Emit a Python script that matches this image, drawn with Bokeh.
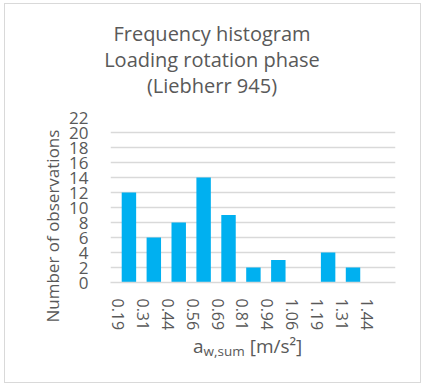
from bokeh.plotting import figure
from bokeh.models import ColumnDataSource, FixedTicker, Range1d, Title, Div
from bokeh.layouts import column
from bokeh.transform import dodge
from bokeh.embed import file_html
from bokeh.resources import INLINE

# ---- data ----
bin_labels = ["0.19", "0.31", "0.44", "0.56", "0.69", "0.81", "0.94", "1.06", "1.19", "1.31", "1.44"]
counts = [12, 6, 8, 14, 9, 2, 3, 0, 4, 2, 0]
y_ticks = list(range(0, 23, 2))
title_lines = ["Frequency histogram", "Loading rotation phase", "(Liebherr 945)"]
y_title = "Number of observations"
x_title_main, x_title_sub, x_title_unit = "a", "w,sum", "[m/s²]"

FONT = "Open Sans"
GRAY = "#595959"
GRID = "#D9D9D9"
BLUE = "#00B0F0"

W = 415
H0 = 101   # title block
H1 = 230   # plot
H2 = 47    # x-axis title block

idx = list(range(len(bin_labels)))
src = ColumnDataSource(dict(x=idx, count=counts, label=bin_labels))

# ---- chart title (three centred lines) ----
title_html = "".join(
    f'<div style="position:absolute;left:0;top:{top}px;width:414px;text-align:center;'
    f'font-size:20px;line-height:20px;white-space:nowrap;">{line}</div>'
    for line, top in zip(title_lines, [20, 46, 72]))
tdiv = Div(width=W, height=H0, margin=0, text=(
    f'<div style="position:relative;width:{W}px;height:{H0}px;font-family:\'{FONT}\';color:{GRAY};">'
    f'{title_html}</div>'))

# ---- plot ----
p = figure(width=W, height=H1, output_backend="svg", toolbar_location=None,
           title_location=None, margin=0,
           x_range=Range1d(-0.30, 11.146), y_range=Range1d(0, 22),
           min_border_left=105, min_border_right=25,
           min_border_top=12, min_border_bottom=53)
p.outline_line_color = None

p.vbar(x=dodge("x", 0.44, range=p.x_range), top="count", width=0.58, bottom=0,
       source=src, fill_color=BLUE, line_color=None)

xa = p.xaxis[0]
xa.ticker = FixedTicker(ticks=idx)
xa.major_label_overrides = {i: lab for i, lab in zip(idx, bin_labels)}
xa.major_label_orientation = "vertical"
xa.major_tick_line_color = None
xa.minor_tick_line_color = None
xa.axis_line_color = GRID
xa.axis_line_width = 1.5
xa.major_label_standoff = 10
xa.major_label_text_font = FONT
xa.major_label_text_font_size = "16px"
xa.major_label_text_color = GRAY

ya = p.yaxis[0]
ya.ticker = FixedTicker(ticks=y_ticks)
ya.major_tick_line_color = None
ya.minor_tick_line_color = None
ya.axis_line_color = None
ya.major_label_standoff = 16
ya.major_label_text_font = FONT
ya.major_label_text_font_size = "17px"
ya.major_label_text_color = GRAY

p.xgrid.grid_line_color = None
p.ygrid.grid_line_color = GRID
p.ygrid.grid_line_width = 1.5

# y axis title
p.add_layout(Title(text=y_title, align="left", offset=-40, standoff=6,
                   text_font=FONT, text_font_size="17px", text_font_style="normal",
                   text_color=GRAY), "left")

# ---- x axis title with subscript ----
xdiv = Div(width=W, height=H2, margin=0, text=(
    f'<div style="position:relative;width:{W}px;height:{H2}px;font-family:\'{FONT}\';color:{GRAY};">'
    f'<span style="position:absolute;left:188px;top:0px;font-size:19px;line-height:22px;white-space:nowrap;">'
    f'{x_title_main}<span style="font-size:13.5px;position:relative;top:3px;">{x_title_sub}</span> {x_title_unit}'
    f'</span></div>'))

layout = column(tdiv, p, xdiv, spacing=0,
                styles={"border": f"1px solid {GRID}", "margin-left": "4px", "margin-top": "3px"})

open("out.html", "w").write(file_html(layout, INLINE))
